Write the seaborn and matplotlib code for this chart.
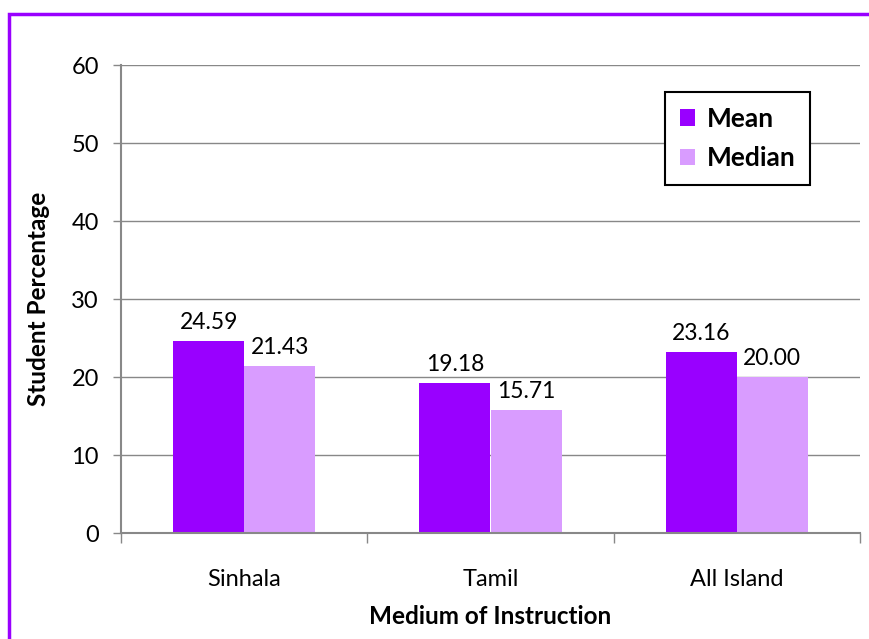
import matplotlib
matplotlib.use("Agg")
import matplotlib.pyplot as plt
import seaborn as sns
import pandas as pd
from matplotlib.patches import Rectangle

# Data
media = ["Sinhala", "Tamil", "All Island"]
mean_vals = [24.59, 19.18, 23.16]
median_vals = [21.43, 15.71, 20.00]
stats = ["Mean", "Median"]
y_ticks = [0, 10, 20, 30, 40, 50, 60]

df = pd.DataFrame({
    "medium": media * 2,
    "stat": ["Mean"] * len(media) + ["Median"] * len(media),
    "value": mean_vals + median_vals,
})

sns.set_theme(style="white", rc={"text.color": "black", "axes.labelcolor": "black",
                                 "xtick.color": "black", "ytick.color": "black"})
plt.rcParams["font.family"] = ["Lato", "DejaVu Sans"]

W, H = 869, 639
fig = plt.figure(figsize=(W / 100, H / 100), dpi=100)
ax = fig.add_axes([121 / W, 1 - 533 / H, (860 - 121) / W, (533 - 65) / H])

colors = ["#9900FF", "#D99CFF"]
sns.barplot(data=df, x="medium", y="value", hue="stat", palette=colors,
            width=0.577, gap=0, ax=ax, saturation=1, errorbar=None,
            linewidth=0)

for cont in ax.containers:
    ax.bar_label(cont, fmt="%.2f", padding=6, fontsize=16.5, color="black")

ax.set_ylim(0, 60)
ax.set_xlim(-0.5, 2.5)
ax.set_yticks(y_ticks)
ax.yaxis.grid(True, color="#888888", linewidth=1)
ax.set_axisbelow(True)

for side in ["top", "right"]:
    ax.spines[side].set_visible(False)
for side in ["left", "bottom"]:
    ax.spines[side].set_color("#888888")
    ax.spines[side].set_linewidth(1.5)

ax.tick_params(axis="y", which="major", length=6, width=1, color="#888888",
               labelcolor="black", direction="out", labelsize=17, pad=10, left=True)
ax.tick_params(axis="x", which="major", length=0, labelsize=17, pad=26,
               labelcolor="black")
ax.set_xticks([-0.5, 0.5, 1.5, 2.5], minor=True)
ax.tick_params(axis="x", which="minor", length=7, width=1, color="#888888",
               direction="out", bottom=True)

ax.set_xlabel("Medium of Instruction", fontsize=17.5, fontweight="bold", labelpad=11)
ax.set_ylabel("Student Percentage", fontsize=17.5, fontweight="bold", labelpad=15)

handles, labels = ax.get_legend_handles_labels()
leg = ax.legend(handles, labels, loc="upper left",
                bbox_to_anchor=((665 - 121) / (860 - 121), 1 - (92 - 65) / (533 - 65)),
                borderaxespad=0,
                frameon=True, fancybox=False, framealpha=1,
                prop={"weight": "bold", "size": 19}, handlelength=0.6,
                handleheight=0.6, handletextpad=0.45, borderpad=0.55,
                labelspacing=0.6, labelcolor="black")
leg.get_frame().set_edgecolor("black")
leg.get_frame().set_linewidth(1.5)

# Chart frame
fig.patches.append(Rectangle((9 / W, -0.1), 1.2, 1 - 14 / H + 0.1,
                             transform=fig.transFigure, fill=False,
                             edgecolor="#9900FF", linewidth=2.5))

fig.savefig("out.png", dpi=100)
